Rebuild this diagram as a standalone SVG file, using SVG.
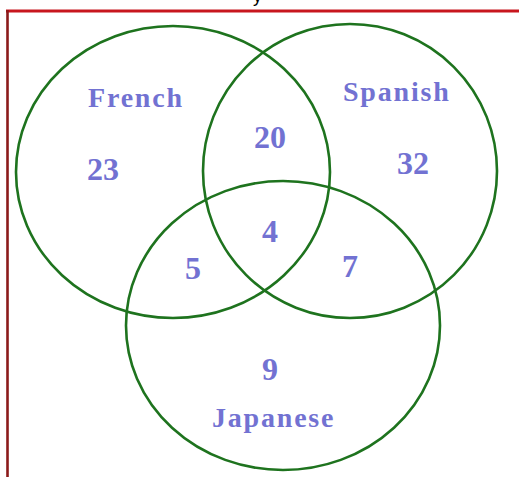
<svg xmlns="http://www.w3.org/2000/svg" width="519" height="477" viewBox="0 0 519 477">
<style>
.set{fill:none;stroke:#1e731e;stroke-width:2.6}
.lbl{font-family:"Liberation Serif","Times New Roman",serif;font-weight:bold;font-size:28px;letter-spacing:1.8px;fill:#7272d2}
.num{font-family:"Liberation Serif","Times New Roman",serif;font-weight:bold;font-size:32px;fill:#7272d2;text-anchor:middle}
</style>
<rect width="519" height="477" fill="#ffffff"/>
<text x="253" y="2" font-family="Liberation Sans, Arial, sans-serif" font-size="18" fill="#000">y</text>
<g id="frame">
<line x1="6" y1="11" x2="519" y2="11" stroke="#c8161e" stroke-width="3"/>
<line x1="7.5" y1="10" x2="7.5" y2="477" stroke="#8b1a1a" stroke-width="2.6"/>
</g>
<g id="connectors"></g>
<g id="french">
<ellipse class="set" cx="173" cy="172" rx="157" ry="146"/>
<text class="lbl" x="88" y="107">French</text>
</g>
<g id="spanish">
<ellipse class="set" cx="350" cy="171" rx="147" ry="147"/>
<text class="lbl" x="343" y="101">Spanish</text>
</g>
<g id="japanese">
<ellipse class="set" cx="283" cy="325.5" rx="157" ry="144.5"/>
<text class="lbl" x="212" y="427">Japanese</text>
</g>
<g id="region-french-only"><text class="num" x="103" y="180">23</text></g>
<g id="region-spanish-only"><text class="num" x="413" y="174">32</text></g>
<g id="region-french-spanish"><text class="num" x="270" y="148">20</text></g>
<g id="region-all"><text class="num" x="270" y="242">4</text></g>
<g id="region-french-japanese"><text class="num" x="193" y="279">5</text></g>
<g id="region-spanish-japanese"><text class="num" x="350" y="277" fill="#8080c8">7</text></g>
<g id="region-japanese-only"><text class="num" x="270" y="380">9</text></g>
</svg>
